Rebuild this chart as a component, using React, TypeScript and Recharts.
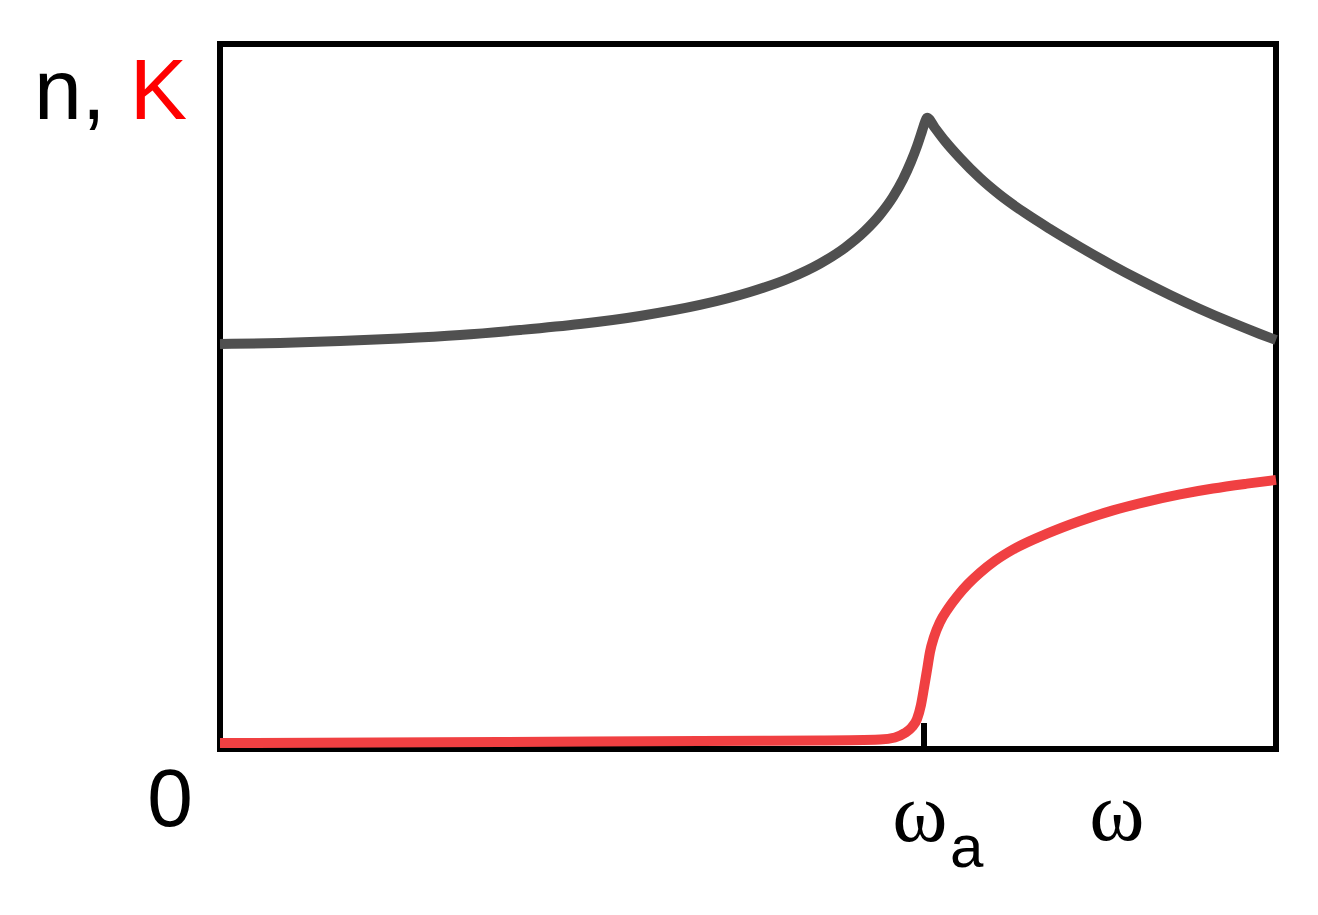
import React from "react";
import { LineChart, Line, XAxis, YAxis, ReferenceArea } from "recharts";

// frequency axis: omega / omega_a, plot spans 0 .. 1.5
const nOmega = [
  0, 0.0852, 0.1705, 0.2557, 0.3409, 0.4261, 0.5114, 0.5966, 0.6818, 0.7528, 0.8097, 0.8523, 0.8878, 0.9162,
  0.9375, 0.956, 0.9702, 0.9815, 0.9901, 0.9972, 1.0014, 1.0043, 1.0156, 1.0298, 1.0511, 1.0795, 1.108, 1.1435,
  1.179, 1.2216, 1.2642, 1.3068, 1.3494, 1.392, 1.4347, 1.4773, 1.5,
];
const nValues = [
  0.5745, 0.5759, 0.5787, 0.5823, 0.5872, 0.5943, 0.6028, 0.6142, 0.6298, 0.6482, 0.6681, 0.6885, 0.7111, 0.7349,
  0.7578, 0.7832, 0.8082, 0.833, 0.8552, 0.8765, 0.8893, 0.8953, 0.8809, 0.8624, 0.8383, 0.8099, 0.7858, 0.7603,
  0.7376, 0.7121, 0.6879, 0.6652, 0.644, 0.6241, 0.6057, 0.5887, 0.5801,
];

const kOmega = [
  0, 0.3977, 0.6818, 0.8523, 0.9375, 0.9588, 0.973, 0.983, 0.9901, 0.9957, 1.0, 1.0043, 1.0085, 1.0142, 1.0227,
  1.0341, 1.0483, 1.0625, 1.0795, 1.1009, 1.1264, 1.1747, 1.2216, 1.2685, 1.3168, 1.3636, 1.4105, 1.4588, 1.5,
];
const kValues = [
  0.0085, 0.0099, 0.0113, 0.0121, 0.0135, 0.0163, 0.0227, 0.0312, 0.0426, 0.0624, 0.0865, 0.1121, 0.1376, 0.1589,
  0.1801, 0.199, 0.218, 0.234, 0.25, 0.267, 0.283, 0.3055, 0.3235, 0.3385, 0.351, 0.3612, 0.3695, 0.3764, 0.3817,
];

const xTicks = [0, 1, 1.274];
const xTickLabels = ["0", "ωa", "ω"];

const nData = nOmega.map((w, i) => ({ w, v: nValues[i] }));
const kData = kOmega.map((w, i) => ({ w, v: kValues[i] }));

const SANS = '"Liberation Sans", Arial, sans-serif';
const SERIF = '"Liberation Serif", "Times New Roman", serif';

function OmegaTick(props: any) {
  const { x, y, payload } = props;
  const idx = xTicks.indexOf(payload.value);
  const label = xTickLabels[idx];
  if (label === "0") {
    return (
      <text x={x - 50} y={y + 77} textAnchor="middle" fontFamily={SANS} fontSize={82} fill="#000">
        0
      </text>
    );
  }
  if (label === "ωa") {
    return (
      <g>
        <line x1={x} y1={y} x2={x} y2={y - 26} stroke="#000" strokeWidth={6} />
        <text x={x - 4} y={y + 92} textAnchor="middle" fontFamily={SERIF} fontSize={84} fill="#000">
          ω
        </text>
        <text x={x + 26} y={y + 118} fontFamily={SANS} fontSize={60} fill="#000">
          a
        </text>
      </g>
    );
  }
  return (
    <text x={x} y={y + 91} textAnchor="middle" fontFamily={SERIF} fontSize={84} fill="#000">
      {label}
    </text>
  );
}

function AxisTitle(props: any) {
  const vb = props.viewBox;
  return (
    <text x={vb.x - 186} y={vb.y + 75} fontFamily={SANS} fontSize={86}>
      <tspan fill="#000">n, </tspan>
      <tspan fill="#ff0000">K</tspan>
    </text>
  );
}

export default function App() {
  return (
    <div style={{ position: "absolute", left: 0, top: 0, width: 1318, height: 915, background: "#fff" }}>
      <LineChart width={1318} height={915} margin={{ top: 44, right: 42, bottom: 66, left: 220 }}>
        <XAxis
          type="number"
          dataKey="w"
          domain={[0, 1.5]}
          ticks={xTicks}
          height={100}
          axisLine={false}
          tickLine={false}
          tickSize={0}
          tickMargin={0}
          tick={<OmegaTick />}
          interval={0}
        />
        <YAxis type="number" domain={[0, 1]} hide />
        <Line
          data={nData}
          dataKey="v"
          type="monotone"
          stroke="#505050"
          strokeWidth={10}
          dot={false}
          isAnimationActive={false}
        />
        <Line
          data={kData}
          dataKey="v"
          type="monotone"
          stroke="#f04042"
          strokeWidth={10}
          dot={false}
          isAnimationActive={false}
        />
        <ReferenceArea
          x1={0}
          x2={1.5}
          y1={0}
          y2={1}
          fill="none"
          fillOpacity={0}
          stroke="#000"
          strokeWidth={6}
          label={<AxisTitle />}
        />
      </LineChart>
    </div>
  );
}
